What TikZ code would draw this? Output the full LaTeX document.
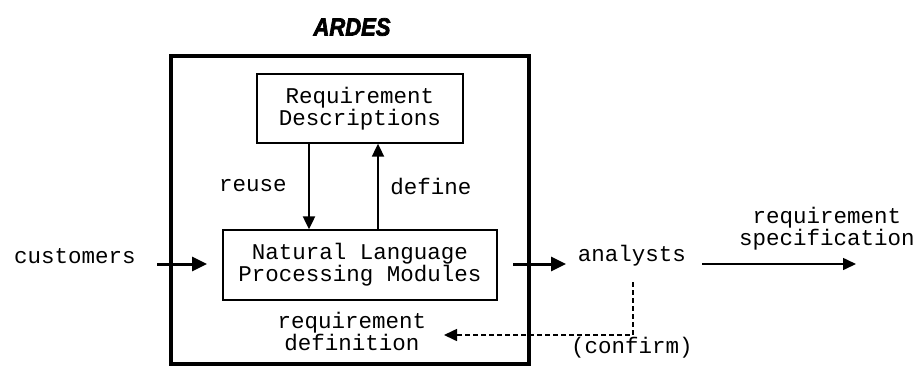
\documentclass[tikz,border=0pt]{standalone}
\usepackage{fontspec}
\setmainfont{Liberation Mono}
\newfontface\titleface[FakeBold=3]{Liberation Sans Bold Italic}
\usetikzlibrary{arrows.meta}
\begin{document}
\begin{tikzpicture}[x=1pt,y=-1pt,
  txt/.style={font=\fontsize{22.5}{22}\selectfont, align=center, inner sep=0pt},
  boxnode/.style={draw, line width=1.3pt, inner sep=0pt, txt},
  tip/.style={-{Triangle[length=15pt,width=14pt]}},
  smalltip/.style={-{Triangle[length=13pt,width=12pt]}}]
\useasboundingbox (0,0) rectangle (919,368);
\node[draw, line width=4pt, minimum width=358pt, minimum height=308pt, inner sep=0pt] (ardes) at (350,210) {};
\node[font=\titleface\fontsize{25}{25}\selectfont, inner sep=0pt] (title) at (352,27) {\scalebox{0.88}[1]{ARDES}};
\node[boxnode, minimum width=206pt, minimum height=69pt] (rd) at (360,108.5) {Requirement\\Descriptions};
\node[boxnode, minimum width=274pt, minimum height=70pt] (nlp) at (360,265) {Natural Language\\Processing Modules};
\node[txt] (reuse) at (253,186) {reuse};
\node[txt] (define) at (431,186) {define};
\node[txt] (reqdef) at (352,331) {requirement\\definition};
\node[txt] (customers) at (75,256) {customers};
\node[txt] (analysts) at (632,256) {analysts};
\node[txt] (confirm) at (632,348) {(confirm)};
\node[txt] (spec) at (827,229) {requirement\\specification};
\coordinate (c1) at (157,264);
\coordinate (c2) at (207,264);
\coordinate (a1) at (513,264);
\coordinate (a2) at (566,264);
\coordinate (s1) at (702,264);
\coordinate (s2) at (856,264);
\coordinate (d1) at (633,282);
\coordinate (d2) at (633,335);
\coordinate (d3) at (444,335);
\draw[line width=2pt, smalltip] (rd.south -| 309,0) -- (nlp.north -| 309,0);
\draw[line width=1.8pt, smalltip] (nlp.north -| 378,0) -- (rd.south -| 378,0);
\draw[line width=3pt, tip] (c1) -- (c2);
\draw[line width=3pt, tip] (a1) -- (a2);
\draw[line width=1.6pt, smalltip] (s1) -- (s2);
\draw[line width=1.6pt, dashed, dash pattern=on 5pt off 3pt, smalltip] (d1) -- (d2) -- (d3);
\end{tikzpicture}
\end{document}
